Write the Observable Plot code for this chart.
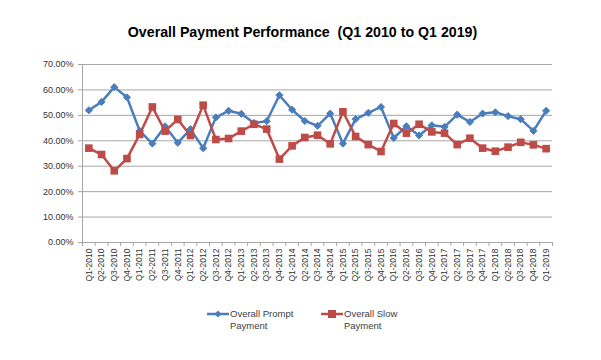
<!DOCTYPE html>
<html>
<head>
<meta charset="utf-8">
<script src="https://cdn.jsdelivr.net/npm/d3@7"></script>
<script src="https://cdn.jsdelivr.net/npm/@observablehq/plot@0.6"></script>
<style>
  html, body { margin: 0; padding: 0; background: #fff; width: 601px; height: 360px; overflow: hidden; }
  #title { height: 50px; box-sizing: border-box; padding-top: 23px; text-align: center; font-family: "Liberation Sans", Arial, sans-serif; font-weight: bold; font-size: 14.2px; line-height: 18px; color: #000; white-space: pre; padding-left: 4px; }
  #legend { position: relative; height: 60px; font-family: "Liberation Sans", Arial, sans-serif; font-size: 9.5px; line-height: 11.5px; color: #404040; }
  .item { position: absolute; top: 8px; display: flex; align-items: flex-start; }
</style>
</head>
<body>
<div id="title">Overall Payment Performance  (Q1 2010 to Q1 2019)</div>
<div id="chart"></div>
<div id="legend"></div>
<script>
const quarters = ["Q1-2010","Q2-2010","Q3-2010","Q4-2010","Q1-2011","Q2-2011","Q3-2011","Q4-2011","Q1-2012","Q2-2012","Q3-2012","Q4-2012","Q1-2013","Q2-2013","Q3-2013","Q4-2013","Q1-2014","Q2-2014","Q3-2014","Q4-2014","Q1-2015","Q2-2015","Q3-2015","Q4-2015","Q1-2016","Q2-2016","Q3-2016","Q4-2016","Q1-2017","Q2-2017","Q3-2017","Q4-2017","Q1-2018","Q2-2018","Q3-2018","Q4-2018","Q1-2019"];
const promptPayment = [52.0,55.3,61.1,57.1,43.9,38.9,45.7,39.2,44.6,37.1,49.2,51.8,50.6,47.0,47.7,57.9,52.2,47.8,45.9,50.7,38.9,48.5,51.0,53.3,41.1,45.7,42.1,46.1,45.5,50.3,47.4,50.7,51.2,49.7,48.5,43.9,51.8];
const slowPayment = [37.1,34.6,28.2,33.0,42.5,53.3,43.8,48.4,42.1,54.0,40.5,40.9,43.8,46.5,44.6,32.8,38.0,41.3,42.2,38.8,51.4,41.7,38.5,35.8,46.8,43.0,46.5,43.5,43.0,38.5,41.0,37.1,35.9,37.5,39.4,38.4,36.9];
const seriesNames = ["Overall Prompt Payment", "Overall Slow Payment"];
const yTicks = [0, 10, 20, 30, 40, 50, 60, 70];

const blue = "#4a7ebb", red = "#be4b48", grid = "#a6a6a6";
const promptData = quarters.map((q, i) => ({i: i + 0.5, v: promptPayment[i]}));
const slowData = quarters.map((q, i) => ({i: i + 0.5, v: slowPayment[i]}));

const chart = Plot.plot({
  width: 601,
  height: 250,
  marginTop: 14,
  marginBottom: 58,
  marginLeft: 82,
  marginRight: 49,
  style: {fontFamily: "Liberation Sans, Arial, sans-serif", fontSize: "9px", color: "#333", background: "#fff"},
  x: {type: "linear", domain: [0, quarters.length]},
  y: {domain: [0, 70]},
  marks: [
    Plot.gridY(yTicks, {stroke: grid, strokeOpacity: 1}),
    Plot.ruleX([0], {y1: 0, y2: 70, stroke: grid}),
    Plot.ruleY([0], {stroke: grid}),
    Plot.axisY(yTicks, {tickSize: 4, tickPadding: 5, stroke: grid, fill: "#333", tickFormat: d => d.toFixed(2) + "%", label: null, fontSize: 9}),
    Plot.axisX(d3.range(quarters.length + 1), {tickSize: 4, stroke: grid, tickFormat: () => "", label: null}),
    Plot.axisX(quarters.map((q, i) => i + 0.5), {tickSize: 0, tickPadding: 6, tickRotate: -90, fill: "#333", tickFormat: d => quarters[Math.floor(d)], label: null, fontSize: 8.5}),
    Plot.line(promptData, {x: "i", y: "v", stroke: blue, strokeWidth: 2.5}),
    Plot.dot(promptData, {x: "i", y: "v", symbol: "diamond2", r: 3.2, fill: blue, stroke: blue, strokeWidth: 1}),
    Plot.line(slowData, {x: "i", y: "v", stroke: red, strokeWidth: 2.5}),
    Plot.dot(slowData, {x: "i", y: "v", symbol: "square", r: 4.3, fill: red, stroke: "none"})
  ]
});
document.getElementById("chart").appendChild(chart);

const legend = document.getElementById("legend");
const items = [
  {name: seriesNames[0], color: blue, marker: "diamond", left: 207},
  {name: seriesNames[1], color: red, marker: "square", left: 321}
];
for (const it of items) {
  const div = document.createElement("div");
  div.className = "item";
  div.style.left = it.left + "px";
  const m = it.marker === "diamond"
    ? `<path d="M11,2.5L14.5,6L11,9.5L7.5,6Z" fill="${it.color}"/>`
    : `<rect x="7" y="2" width="8" height="8" fill="${it.color}"/>`;
  div.innerHTML = `<svg width="22" height="12"><line x1="0" y1="6" x2="22" y2="6" stroke="${it.color}" stroke-width="2.5"/>${m}</svg><div style="padding-left:1px">${it.name.replace(/ Payment$/, "")}<br>Payment</div>`;
  legend.appendChild(div);
}
</script>
</body>
</html>
